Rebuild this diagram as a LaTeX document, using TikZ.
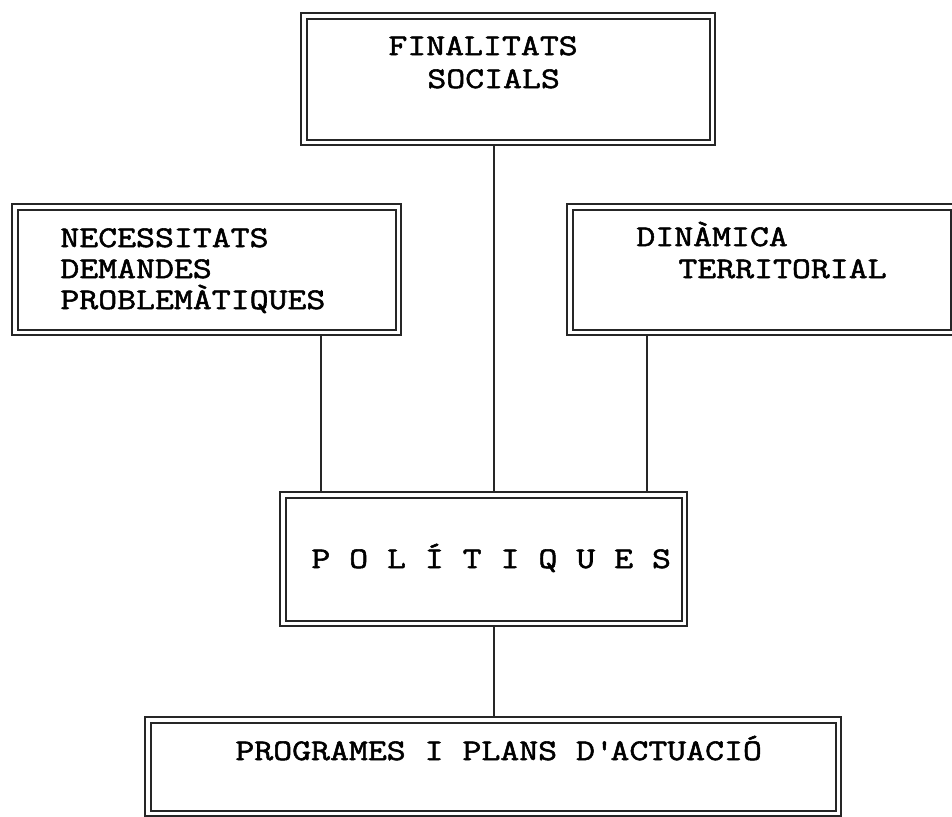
\documentclass[tikz,border=0pt]{standalone}
\usepackage{fontspec}
\newfontfamily\typewriter[FakeStretch=1.225,FakeBold=1.8]{Latin Modern Mono}
\begin{document}
\begin{tikzpicture}[x=0.5pt,y=-0.5pt,
  frame/.style={rectangle, draw=black!85, line width=1pt, double=white,
    double distance=1.75pt, inner sep=0pt, outer sep=1.875pt},
  caption/.style={inner sep=0pt, anchor=base west,
    font=\typewriter\fontsize{15}{15}\selectfont},
  link/.style={draw=black!85, line width=0.75pt}]
\useasboundingbox (0,0) rectangle (952,816);
\clip (0,0) rectangle (952,816);

% double-framed boxes
\node[frame, minimum width=204.25pt, minimum height=63.25pt] (fin)  at (508,79) {};
\node[frame, minimum width=191.75pt, minimum height=62.75pt] (nec)  at (206.5,269.5) {};
\node[frame, minimum width=191.75pt, minimum height=62.75pt] (din)  at (761.5,269.5) {};
\node[frame, minimum width=200.75pt, minimum height=64.25pt] (pol)  at (483.5,559) {};
\node[frame, minimum width=345.25pt, minimum height=46.75pt] (prog) at (493,766.5) {};

% box texts
\node[caption] (finA) at (388,55) {FINALITATS};
\node[caption] (finB) at (427,88) {SOCIALS};
\node[caption] (necA) at (60,247) {NECESSITATS};
\node[caption] (necB) at (60,278) {DEMANDES};
\node[caption] (necC) at (60,309) {PROBLEMÀTIQUES};
\node[caption] (dinA) at (636,246) {DINÀMICA};
\node[caption] (dinB) at (678,278) {TERRITORIAL};
\node[caption] (polA) at (311,568) {P O L Í T I Q U E S};
\node[caption] (progA) at (235,760) {PROGRAMES I PLANS D\textquotesingle ACTUACIÓ};

% connectors
\draw[link] ([xshift=-7pt]fin.south) -- ([xshift=-7pt]fin.south |- pol.north);
\draw[link] ([xshift=57.25pt]nec.south) -- ([xshift=57.25pt]nec.south |- pol.north);
\draw[link] ([xshift=-57.25pt]din.south) -- ([xshift=-57.25pt]din.south |- pol.north);
\draw[link] ([xshift=5.25pt]pol.south) -- ([xshift=5.25pt]pol.south |- prog.north);
\end{tikzpicture}
\end{document}
